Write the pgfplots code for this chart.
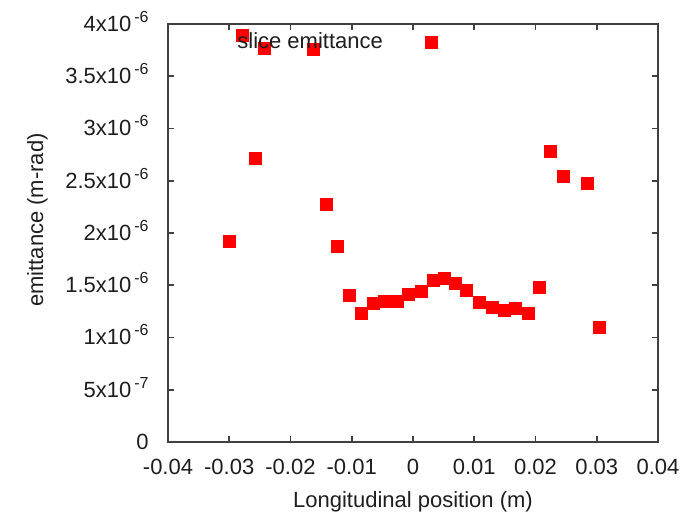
\documentclass[border=0pt]{standalone}
\usepackage{pgfplots}
\pgfplotsset{compat=1.18}
\usepackage{fontspec}
\setmainfont{Liberation Sans}
\newcommand\sm[1]{\hspace{1.5pt}\raisebox{4.5pt}{\fontsize{8pt}{9pt}\selectfont #1}}
\definecolor{axgray}{RGB}{64,64,64}
\definecolor{txt}{RGB}{30,30,30}
\begin{document}
\begin{tikzpicture}
\begin{axis}[
  scale only axis, width=245pt, height=209pt,
  at={(0,0)}, anchor=south west,
  xmin=-0.04, xmax=0.04, ymin=0, ymax=4e-6,
  scaled x ticks=false, scaled y ticks=false,
  xtick={-0.04,-0.03,-0.02,-0.01,0,0.01,0.02,0.03,0.04},
  xticklabels={-0.04,-0.03,-0.02,-0.01,0,0.01,0.02,0.03,0.04},
  ytick={0,5e-7,1e-6,1.5e-6,2e-6,2.5e-6,3e-6,3.5e-6,4e-6},
  yticklabels={0,5x10\sm{-7},1x10\sm{-6},1.5x10\sm{-6},2x10\sm{-6},2.5x10\sm{-6},3x10\sm{-6},3.5x10\sm{-6},4x10\sm{-6}},
  tick align=inside, tick pos=both, major tick length=3pt,
  axis line style={draw=axgray, line width=1pt},
  tick style={draw=axgray, line width=0.8pt},
  font=\fontsize{11pt}{13pt}\selectfont,
  every tick label/.append style={text=txt},
  xticklabel style={anchor=base, inner sep=0pt, yshift=-16.25pt},
  yticklabel style={anchor=base east, inner sep=0pt, xshift=-9.5pt, yshift=-3.75pt},
  xlabel={Longitudinal position (m)},
  ylabel={emittance (m-rad)},
  xlabel style={at={(axis description cs:0.5,0)}, anchor=base, yshift=-33pt, inner sep=0pt, text=txt},
  ylabel style={at={(axis description cs:-0.2551,0.531)}, anchor=base, inner sep=0pt, text=txt},
  legend plot pos=right,
  legend style={at={(axis description cs:0.1408,0.957)}, anchor=west, draw=none, fill=none, inner sep=0pt, column sep=0pt, nodes={inner sep=0pt, text=txt}, font=\fontsize{11pt}{13pt}\selectfont},
  legend image code/.code={\path[draw=none] (0pt,-3pt) rectangle (27.5pt,3pt); \path[#1, draw=none, only marks, mark options={draw=red, fill=red}] plot coordinates {(24.5pt,0pt)};},
]
\addplot[only marks, mark=square*, mark size=3pt, color=red, mark options={draw=red, fill=red}] table {
x y
-0.0299 1.92e-6
-0.0279 3.89e-6
-0.0258 2.71e-6
-0.0242 3.77e-6
-0.0162 3.76e-6
-0.0142 2.27e-6
-0.0124 1.87e-6
-0.0104 1.40e-6
-0.0085 1.23e-6
-0.0065 1.33e-6
-0.0046 1.35e-6
-0.0026 1.35e-6
-0.0007 1.41e-6
0.0013 1.44e-6
0.0033 1.55e-6
0.0051 1.57e-6
0.0070 1.52e-6
0.0088 1.45e-6
0.0109 1.34e-6
0.0129 1.29e-6
0.0149 1.26e-6
0.0168 1.28e-6
0.0188 1.23e-6
0.0206 1.48e-6
0.0225 2.78e-6
0.0245 2.54e-6
0.0284 2.47e-6
0.0304 1.10e-6
};
\addlegendentry{slice emittance}
\end{axis}
\pgfresetboundingbox
\path[use as bounding box] (-84pt,-37.5pt) rectangle (257pt,221pt);
\end{tikzpicture}
\end{document}
